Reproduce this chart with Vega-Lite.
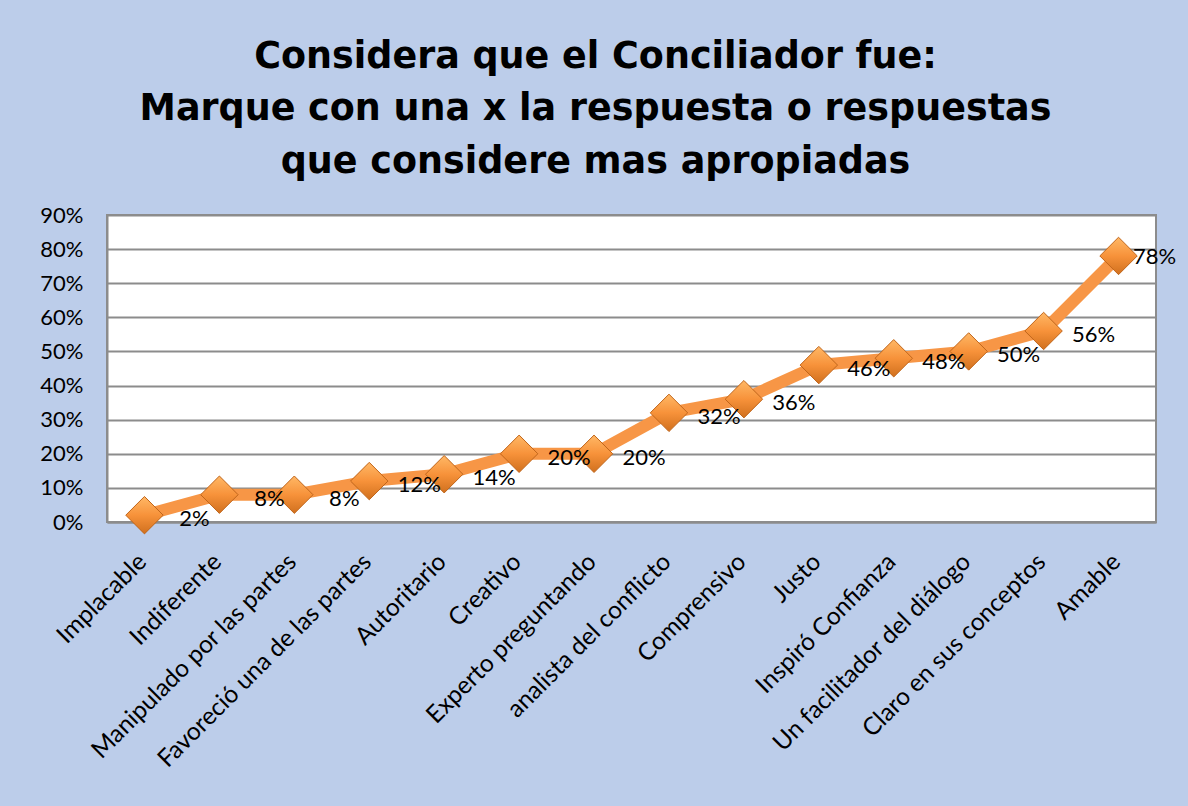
{
  "$schema": "https://vega.github.io/schema/vega-lite/v6.json",
  "width": 1049,
  "height": 307,
  "autosize": {"type": "none"},
  "padding": {"left": 107, "top": 215, "right": 32, "bottom": 284},
  "background": "#bccdea",
  "title": {
    "text": ["Considera que el Conciliador fue:", "Marque con una x la respuesta o respuestas", "que considere mas apropiadas"],
    "font": "DejaVu Sans",
    "fontSize": 36.5,
    "fontWeight": "bold",
    "color": "#000000",
    "lineHeight": 52.5,
    "anchor": "middle",
    "dx": -36,
    "offset": 24
  },
  "config": {
    "view": {"fill": "#ffffff", "stroke": "#8c8c8c", "strokeWidth": 2}
  },
  "data": {
    "values": [
      {"cat": "Implacable", "pct": 0.02},
      {"cat": "Indiferente", "pct": 0.08},
      {"cat": "Manipulado por las partes", "pct": 0.08},
      {"cat": "Favoreció una de las partes", "pct": 0.12},
      {"cat": "Autoritario", "pct": 0.14},
      {"cat": "Creativo", "pct": 0.20},
      {"cat": "Experto preguntando", "pct": 0.20},
      {"cat": "analista del conflicto", "pct": 0.32},
      {"cat": "Comprensivo", "pct": 0.36},
      {"cat": "Justo", "pct": 0.46},
      {"cat": "Inspiró Confianza", "pct": 0.48},
      {"cat": "Un facilitador del diálogo", "pct": 0.50},
      {"cat": "Claro en sus conceptos", "pct": 0.56},
      {"cat": "Amable", "pct": 0.78}
    ]
  },
  "encoding": {
    "x": {
      "field": "cat",
      "type": "nominal",
      "sort": null,
      "scale": {"type": "point", "padding": 0.5},
      "axis": {
        "title": null,
        "labelAngle": -45,
        "labelAlign": "right",
        "labelBaseline": "middle",
        "labelFont": "Lato",
        "labelFontSize": 24.5,
        "labelLimit": 0,
        "labelColor": "#000000",
        "labelPadding": 36,
        "labelOffset": -2,
        "ticks": false,
        "domainColor": "#8c8c8c",
        "domainWidth": 2,
        "grid": false
      }
    },
    "y": {
      "field": "pct",
      "type": "quantitative",
      "scale": {"domain": [0, 0.9], "nice": false},
      "axis": {
        "title": null,
        "format": ".0%",
        "values": [0, 0.1, 0.2, 0.3, 0.4, 0.5, 0.6, 0.7, 0.8, 0.9],
        "labelFont": "Lato",
        "labelFontSize": 22,
        "labelColor": "#000000",
        "labelPadding": 24,
        "ticks": false,
        "domainColor": "#8c8c8c",
        "domainWidth": 2,
        "grid": true,
        "gridColor": "#8c8c8c",
        "gridWidth": 2
      }
    }
  },
  "layer": [
    {
      "mark": {"type": "line", "color": "#f79646", "strokeWidth": 12, "strokeJoin": "round"}
    },
    {
      "mark": {
        "type": "point",
        "shape": "diamond",
        "size": 1400,
        "filled": true,
        "opacity": 1,
        "stroke": "#c0651a",
        "strokeWidth": 1,
        "fill": {
          "gradient": "linear",
          "x1": 0, "y1": 0, "x2": 0, "y2": 1,
          "stops": [
            {"offset": 0, "color": "#ffb866"},
            {"offset": 0.5, "color": "#f7923a"},
            {"offset": 1, "color": "#d0701e"}
          ]
        }
      }
    },
    {
      "transform": [{"filter": "datum.cat !== 'Amable'"}],
      "mark": {"type": "text", "dx": 50, "dy": 4, "font": "Lato", "fontSize": 22, "color": "#000000", "align": "center", "baseline": "middle"},
      "encoding": {"text": {"field": "pct", "type": "quantitative", "format": ".0%"}}
    },
    {
      "transform": [{"filter": "datum.cat === 'Amable'"}],
      "mark": {"type": "text", "dx": 36, "dy": 1, "font": "Lato", "fontSize": 22, "color": "#000000", "align": "center", "baseline": "middle"},
      "encoding": {"text": {"field": "pct", "type": "quantitative", "format": ".0%"}}
    }
  ]
}
